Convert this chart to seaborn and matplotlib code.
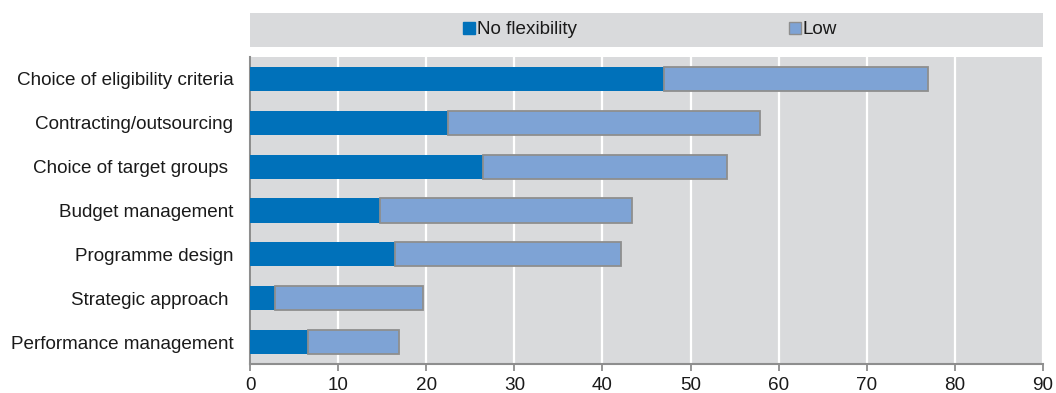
import numpy as np
import pandas as pd
import matplotlib
matplotlib.use("Agg")
import matplotlib.pyplot as plt
import seaborn as sns
from matplotlib.patches import Patch, Rectangle

# ----------------------------------------------------------
# Data
# ----------------------------------------------------------
categories = [
    "Choice of eligibility criteria",
    "Contracting/outsourcing",
    "Choice of target groups ",
    "Budget management",
    "Programme design",
    "Strategic approach ",
    "Performance management",
]
no_flexibility = [47.0, 22.5, 26.4, 14.7, 16.5, 2.8, 6.6]
low = [30.0, 35.4, 27.7, 28.7, 25.6, 16.8, 10.3]
x_ticks = [0, 10, 20, 30, 40, 50, 60, 70, 80, 90]

DARK = "#0071BA"
LIGHT = "#7EA3D5"
EDGE = "#8E8E8E"
BG = "#D9DADC"

df = pd.DataFrame({"Category": categories, "No flexibility": no_flexibility, "Low": low})

sns.set_style("white")
plt.rcParams["font.family"] = ["Liberation Sans", "DejaVu Sans"]

fig = plt.figure(figsize=(10.56, 3.93), dpi=100)
ax = fig.add_axes([250 / 1056, 1 - 364 / 393, (1043 - 250) / 1056, (364 - 57) / 393])
ax.set_facecolor(BG)

# dark segment via seaborn
sns.barplot(data=df, x="No flexibility", y="Category", order=categories,
            color=DARK, saturation=1, width=0.55, orient="h", ax=ax,
            edgecolor=DARK, linewidth=0, zorder=3)
# light segment stacked on top
pos = np.arange(len(categories))
ax.barh(pos, df["Low"], left=df["No flexibility"], height=0.55,
        color=LIGHT, edgecolor=EDGE, linewidth=1.3, zorder=3)

ax.set_xlim(0, 90)
ax.set_ylim(len(categories) - 0.5, -0.5)
ax.set_xticks(x_ticks)
ax.set_xlabel("")
ax.set_ylabel("")

ax.grid(axis="x", color="white", linewidth=1.6, zorder=0)
ax.set_axisbelow(True)

for side in ["top", "right"]:
    ax.spines[side].set_visible(False)
for side in ["left", "bottom"]:
    ax.spines[side].set_color(EDGE)
    ax.spines[side].set_linewidth(1.5)

ax.set_yticks(pos)
ax.set_yticks(np.arange(len(categories) + 1) - 0.5, minor=True)
ax.tick_params(axis="y", which="major", length=0, pad=12, labelsize=13.6, labelcolor="#1a1a1a")
ax.tick_params(axis="y", which="minor", length=5, width=1.3, color=EDGE, direction="out")
ax.tick_params(axis="x", which="major", length=5, width=1.3, color=EDGE, direction="out",
               pad=4, labelsize=13.6, labelcolor="#1a1a1a")
ax.tick_params(left=True, bottom=True)

# legend band above the plot
fig.patches.append(Rectangle((250 / 1056, 1 - 47 / 393), (1043 - 250) / 1056, 34 / 393,
                             transform=fig.transFigure, facecolor=BG, edgecolor="none"))
handles = [Patch(facecolor=DARK, edgecolor=DARK), Patch(facecolor=LIGHT, edgecolor=EDGE)]
fig.legend(handles, ["No flexibility", "Low"], loc="center",
           bbox_to_anchor=(650 / 1056, 1 - 30 / 393), ncol=2, frameon=False,
           fontsize=13.6, handlelength=0.65, handleheight=0.65, handletextpad=0.1,
           columnspacing=11.2, labelcolor="#1a1a1a")

fig.savefig("out.png", dpi=100)
